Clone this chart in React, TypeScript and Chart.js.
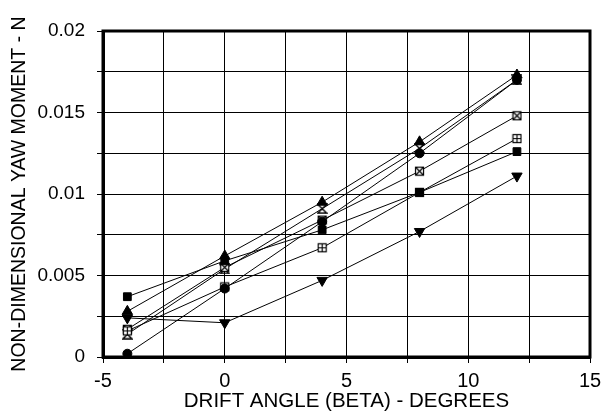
import React, { useEffect, useRef } from "react";
import { Chart, registerables } from "chart.js";

Chart.register(...registerables);

const driftAngles = [-4, 0, 4, 8, 12];
const squareFilled = [0.0037, 0.0059, 0.0078, 0.0101, 0.0126];
const triangleUp = [0.0028, 0.0062, 0.0095, 0.0132, 0.0173];
const triangleDown = [0.0024, 0.0021, 0.0047, 0.0077, 0.0111];
const circleFilled = [0.0002, 0.0042, 0.0083, 0.0125, 0.017];
const squarePlus = [0.0016, 0.0043, 0.0067, 0.0101, 0.0134];
const squareCross = [0.0017, 0.0055, 0.0084, 0.0114, 0.0148];
const hourglass = [0.0014, 0.0054, 0.0091, 0.0128, 0.0170];

const FONT = "'Liberation Sans', Arial, sans-serif";

function makeIcon(kind: string): HTMLCanvasElement {
  const c = document.createElement("canvas");
  c.width = 11;
  c.height = 11;
  const g = c.getContext("2d")!;
  g.strokeStyle = "#000";
  g.fillStyle = "#fff";
  g.lineWidth = 1.2;
  if (kind === "plus" || kind === "cross") {
    g.fillRect(1, 1, 9, 9);
    g.strokeRect(1.5, 1.5, 8, 8);
    g.beginPath();
    if (kind === "plus") {
      g.moveTo(5.5, 1.5); g.lineTo(5.5, 9.5);
      g.moveTo(1.5, 5.5); g.lineTo(9.5, 5.5);
    } else {
      g.moveTo(1.5, 1.5); g.lineTo(9.5, 9.5);
      g.moveTo(9.5, 1.5); g.lineTo(1.5, 9.5);
    }
    g.stroke();
  } else {
    g.fillStyle = "#000";
    g.lineWidth = 1.5;
    g.beginPath();
    g.moveTo(1, 1); g.lineTo(10, 1); g.lineTo(5.5, 5.5); g.closePath();
    g.moveTo(1, 10); g.lineTo(10, 10); g.lineTo(5.5, 5.5); g.closePath();
    g.stroke();
    g.fillStyle = "#fff";
    g.beginPath();
    g.moveTo(3.5, 2.3); g.lineTo(7.5, 2.3); g.lineTo(5.5, 4.3); g.closePath();
    g.fill();
  }
  return c;
}

const frame = {
  id: "frame",
  afterDraw(chart: any) {
    const { ctx, chartArea } = chart;
    ctx.save();
    ctx.strokeStyle = "#000";
    ctx.lineWidth = 3;
    ctx.strokeRect(chartArea.left, chartArea.top, chartArea.right - chartArea.left, chartArea.bottom - chartArea.top);
    ctx.restore();
  },
};

export default function App() {
  const ref = useRef<HTMLCanvasElement>(null);
  useEffect(() => {
    document.body.style.margin = "0";
    const mk = (values: number[], style: any, extra: any = {}) => ({
      data: driftAngles.map((x, i) => ({ x, y: values[i] })),
      borderColor: "#000",
      backgroundColor: "#000",
      borderWidth: 1,
      pointStyle: style,
      pointRadius: 5,
      pointBorderColor: "#000",
      pointBackgroundColor: "#000",
      showLine: true,
      ...extra,
    });
    const chart = new Chart(ref.current!, {
      type: "scatter",
      data: {
        datasets: [
          mk(squareFilled, "rect", { pointRadius: 5.5 }),
          mk(triangleUp, "triangle", { pointRadius: 6 }),
          mk(triangleDown, "triangle", { pointRadius: 6, pointRotation: 180 }),
          mk(circleFilled, "circle", { pointRadius: 4.5 }),
          mk(squarePlus, makeIcon("plus")),
          mk(squareCross, makeIcon("cross")),
          mk(hourglass, makeIcon("hourglass")),
        ],
      },
      options: {
        animation: false,
        responsive: false,
        layout: { padding: { top: 31, right: 19, left: 0, bottom: 0 } },
        plugins: { legend: { display: false }, tooltip: { enabled: false } },
        scales: {
          x: {
            type: "linear",
            min: -5,
            max: 15,
            afterFit: (s: any) => { s.height = 54; },
            ticks: {
              stepSize: 2.5,
              color: "#000",
              padding: 6,
              maxRotation: 0,
              font: { family: FONT, size: 20 },
              callback: (v: any) => (Math.abs(v % 5) < 1e-9 ? String(v) : ""),
            },
            grid: { color: "#000", lineWidth: 1, tickLength: 6 },
            border: { color: "#000", width: 3 },
            title: {
              display: true,
              text: "DRIFT ANGLE (BETA) - DEGREES",
              color: "#000",
              font: { family: FONT, size: 20.5 },
              padding: { top: 0, bottom: -3 },
            },
          },
          y: {
            type: "linear",
            min: 0,
            max: 0.02,
            afterFit: (s: any) => { s.width = 103; },
            ticks: {
              stepSize: 0.0025,
              color: "#000",
              padding: 12,
              font: { family: FONT, size: 19 },
              callback: (v: any) => {
                const k = v / 0.005;
                return Math.abs(k - Math.round(k)) < 1e-6 ? String(Number(v.toFixed(3))) : "";
              },
            },
            grid: { color: "#000", lineWidth: 1, tickLength: 6 },
            border: { color: "#000", width: 3 },
            title: {
              display: true,
              text: "NON-DIMENSIONAL YAW MOMENT - N",
              color: "#000",
              font: { family: FONT, size: 19.5 },
              padding: { top: 8, bottom: 0 },
            },
          },
        },
      },
      plugins: [frame],
    });
    return () => chart.destroy();
  }, []);
  return (
    <div style={{ position: "absolute", left: 0, top: 0, width: 609, height: 411, background: "#fff" }}>
      <canvas ref={ref} width={609} height={411} />
    </div>
  );
}
